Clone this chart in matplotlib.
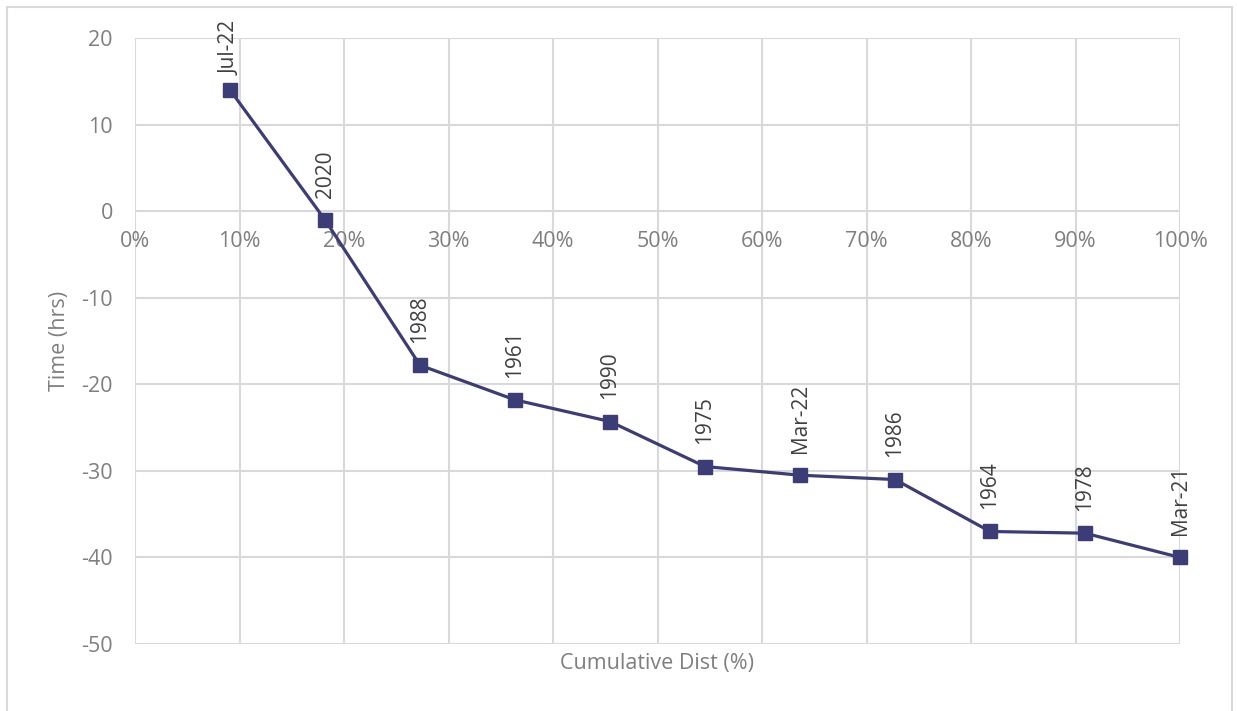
import matplotlib.pyplot as plt
from matplotlib.patches import Rectangle
from matplotlib.ticker import PercentFormatter

# data
cum_dist = [1/11, 2/11, 3/11, 4/11, 5/11, 6/11, 7/11, 8/11, 9/11, 10/11, 11/11]
time_hrs = [14.0, -1.0, -17.8, -21.8, -24.3, -29.5, -30.5, -31.0, -37.0, -37.2, -40.0]
labels = ["Jul-22", "2020", "1988", "1961", "1990", "1975",
          "Mar-22", "1986", "1964", "1978", "Mar-21"]

LINE = "#3C3C76"
TEXT = "#7F7F7F"
LABEL = "#404040"
GRID = "#D9D9D9"

plt.rcParams['font.family'] = ['Open Sans', 'DejaVu Sans']
plt.rcParams['axes.unicode_minus'] = False

fig = plt.figure(figsize=(12.37, 7.11), dpi=100)
ax = fig.add_axes([135/1237, 1 - 644/711, (1180-135)/1237, (644-38)/711])

# chart area border
fig.patches.append(Rectangle((7/1237, -0.05), (1232-7)/1237, 1.05 - 7/711,
                             transform=fig.transFigure, fill=False,
                             edgecolor=GRID, linewidth=1.5))

ax.plot(cum_dist, time_hrs, color=LINE, linewidth=2.3, marker='s',
        markersize=9.5, zorder=3, clip_on=False)

for i, (x, y, lab) in enumerate(zip(cum_dist, time_hrs, labels)):
    # the first label is nudged down so it stays inside the chart
    off = 11 if i == 0 else 16
    ax.annotate(lab, (x, y), xytext=(0, off), textcoords='offset points',
                rotation=90, ha='center', va='bottom', fontsize=15, color=LABEL)

ax.set_xlim(0, 1)
ax.set_ylim(-50, 20)
ax.set_xticks([i/10 for i in range(11)])
ax.set_yticks(range(-50, 21, 10))
ax.xaxis.set_major_formatter(PercentFormatter(1.0, decimals=0))

# x axis crosses at y = 0
ax.spines['bottom'].set_position(('data', 0))
for s in ax.spines.values():
    s.set_visible(False)

ax.grid(True, color=GRID, linewidth=1.5)
ax.set_axisbelow(True)
ax.tick_params(length=0, labelsize=15.5, colors=TEXT)
ax.tick_params(axis='y', pad=16)
ax.tick_params(axis='x', pad=14)

ax.set_ylabel("Time (hrs)", fontsize=15.5, color=TEXT, labelpad=8)
ax.text(0.5, -0.032, "Cumulative Dist (%)", transform=ax.transAxes,
        ha='center', va='center', fontsize=15.5, color=TEXT)

fig.savefig("out.png", dpi=100)
